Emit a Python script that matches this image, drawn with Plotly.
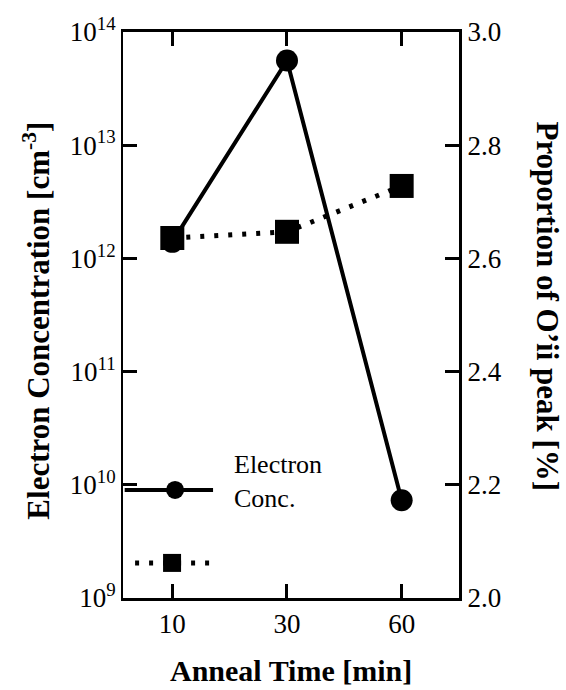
import plotly.graph_objects as go

# Anneal time categories and measured series
anneal_time = ["10", "30", "60"]
electron_conc = [1.4e12, 5.6e13, 7.3e9]          # cm^-3
oii_proportion = [2.636, 2.647, 2.728]           # %

left_tickvals = [1e9, 1e10, 1e11, 1e12, 1e13, 1e14]
left_ticktext = ["10<sup>%d</sup>" % e for e in range(9, 15)]
right_tickvals = [2.0, 2.2, 2.4, 2.6, 2.8, 3.0]

FONT = "Liberation Serif, Times New Roman, serif"
xpos = list(range(len(anneal_time)))

fig = go.Figure()

fig.add_trace(go.Scatter(
    x=xpos, y=electron_conc, mode="lines+markers",
    line=dict(color="black", width=4),
    marker=dict(symbol="circle", size=22, color="black"),
    yaxis="y", showlegend=False,
))
fig.add_trace(go.Scatter(
    x=xpos, y=oii_proportion, mode="lines+markers",
    line=dict(color="black", width=5, dash="4px,10px"),
    marker=dict(symbol="square", size=24, color="black"),
    yaxis="y2", showlegend=False,
))

# Inset key drawn on a hidden overlay axis pair
fig.add_trace(go.Scatter(
    x=[0.155], y=[0.191], mode="markers",
    marker=dict(symbol="circle", size=18, color="black"),
    xaxis="x3", yaxis="y3", showlegend=False, hoverinfo="skip",
))
fig.add_trace(go.Scatter(
    x=[0.146], y=[0.062], mode="markers",
    marker=dict(symbol="square", size=18, color="black"),
    xaxis="x3", yaxis="y3", showlegend=False, hoverinfo="skip",
))

shapes = [
    dict(type="line", xref="paper", yref="paper", x0=0.005, x1=0.268,
         y0=0.191, y1=0.191, line=dict(color="black", width=4)),
    dict(type="line", xref="paper", yref="paper", x0=0.036, x1=0.268,
         y0=0.062, y1=0.062, line=dict(color="black", width=5, dash="4px,10px")),
]

annotations = [
    dict(text="Electron<br>Conc.", xref="paper", yref="paper", x=0.325, y=0.205,
         xanchor="left", yanchor="middle", showarrow=False, align="left",
         font=dict(family=FONT, size=26, color="black")),
    dict(text="<b>Electron Concentration [cm<sup>-3</sup>]</b>", xref="paper", yref="paper",
         x=-0.256, y=0.49, textangle=-90, showarrow=False,
         xanchor="center", yanchor="middle",
         font=dict(family=FONT, size=31, color="black")),
    dict(text="<b>Proportion of O’ii peak [%]</b>", xref="paper", yref="paper",
         x=1.262, y=0.515, textangle=90, showarrow=False,
         xanchor="center", yanchor="middle",
         font=dict(family=FONT, size=31, color="black")),
    dict(text="<b>Anneal Time [min]</b>", xref="paper", yref="paper",
         x=0.5, y=-0.128, showarrow=False,
         xanchor="center", yanchor="middle",
         font=dict(family=FONT, size=30, color="black")),
]

fig.update_layout(
    width=566, height=690,
    margin=dict(l=123, r=107, t=32, b=92),
    paper_bgcolor="white", plot_bgcolor="white",
    font=dict(family=FONT, size=27, color="black"),
    shapes=shapes, annotations=annotations,
    xaxis=dict(
        range=[-0.43, 2.5], tickvals=xpos, ticktext=anneal_time,
        ticks="inside", ticklen=14, tickwidth=3, tickcolor="black",
        showline=True, linecolor="black", linewidth=3, mirror="ticks",
        showgrid=False, zeroline=False, tickfont=dict(size=27),
    ),
    yaxis=dict(
        type="log", range=[9, 14],
        tickvals=left_tickvals, ticktext=left_ticktext,
        ticks="inside", ticklen=14, tickwidth=3, tickcolor="black",
        showline=True, linecolor="black", linewidth=2,
        showgrid=False, zeroline=False, tickfont=dict(size=27),
    ),
    yaxis2=dict(
        overlaying="y", side="right", range=[2.0, 3.0],
        tickvals=right_tickvals, ticktext=["%.1f" % v for v in right_tickvals],
        ticks="inside", ticklen=14, tickwidth=3, tickcolor="black",
        showline=True, linecolor="black", linewidth=3,
        showgrid=False, zeroline=False, tickfont=dict(size=27),
    ),
    xaxis3=dict(overlaying="x", range=[0, 1], visible=False),
    yaxis3=dict(overlaying="y", range=[0, 1], visible=False),
)

fig.write_html("out.html")
